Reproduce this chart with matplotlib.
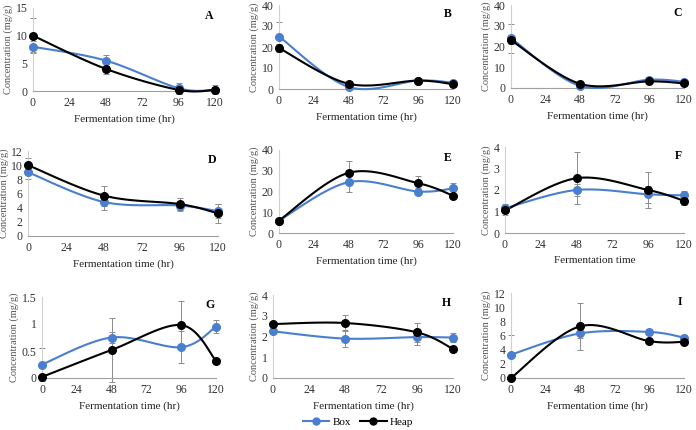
import numpy as np
import matplotlib
matplotlib.use('Agg')
import matplotlib.pyplot as plt
from matplotlib.lines import Line2D

plt.rcParams['font.family'] = ['Liberation Serif', 'DejaVu Serif']

hours = [0, 48, 96, 120]
panels = ['A', 'B', 'C', 'D', 'E', 'F', 'G', 'H', 'I']

box_A = [8.0, 5.5, 0.5, 0.2]
box_A_err = [1.0, 1.0, 1.0, 0.8]
heap_A = [10.0, 4.0, 0.2, 0.2]
heap_A_err = [3.2, 1.0, 0.3, 0.3]

box_B = [25.0, 1.0, 4.0, 3.0]
box_B_err = [7.0, 1.0, 1.0, 1.0]
heap_B = [19.5, 2.5, 4.0, 2.3]
heap_B_err = [2.0, 1.0, 0.5, 0.5]

box_C = [24.0, 1.0, 4.0, 3.0]
box_C_err = [7.0, 1.0, 1.0, 1.0]
heap_C = [23.0, 2.0, 3.2, 2.2]
heap_C_err = [2.0, 0.5, 0.5, 0.5]

box_D = [9.0, 4.8, 4.3, 3.5]
box_D_err = [1.0, 1.1, 0.7, 1.0]
heap_D = [10.0, 5.7, 4.5, 3.2]
heap_D_err = [1.0, 1.4, 0.8, 1.3]

box_E = [6.0, 24.5, 20.0, 21.5]
box_E_err = [1.0, 4.5, 1.5, 2.5]
heap_E = [6.0, 29.0, 24.0, 18.0]
heap_E_err = [0.5, 5.5, 3.5, 1.0]

box_F = [1.15, 2.0, 1.8, 1.75]
box_F_err = [0.2, 0.3, 0.4, 0.2]
heap_F = [1.05, 2.55, 2.0, 1.5]
heap_F_err = [0.2, 1.2, 0.85, 0.2]

box_G = [0.25, 0.75, 0.57, 0.95]
box_G_err = [0.3, 0.1, 0.3, 0.12]
heap_G = [0.02, 0.52, 0.98, 0.32]
heap_G_err = [0.0, 0.6, 0.45, 0.02]

box_H = [2.25, 1.9, 1.97, 1.95]
box_H_err = [0.1, 0.4, 0.4, 0.2]
heap_H = [2.6, 2.65, 2.2, 1.4]
heap_H_err = [0.1, 0.4, 0.45, 0.15]

box_I = [3.3, 6.3, 6.5, 5.7]
box_I_err = [2.8, 0.7, 0.4, 0.4]
heap_I = [0.0, 7.3, 5.2, 5.1]
heap_I_err = [0.0, 3.3, 0.2, 0.2]

box = [box_A, box_B, box_C, box_D, box_E, box_F, box_G, box_H, box_I]
box_err = [box_A_err, box_B_err, box_C_err, box_D_err, box_E_err, box_F_err, box_G_err, box_H_err, box_I_err]
heap = [heap_A, heap_B, heap_C, heap_D, heap_E, heap_F, heap_G, heap_H, heap_I]
heap_err = [heap_A_err, heap_B_err, heap_C_err, heap_D_err, heap_E_err, heap_F_err, heap_G_err, heap_H_err, heap_I_err]

ymax = [15, 40, 40, 12, 40, 4, 1.5, 4, 12]
ystep = [5, 10, 10, 2, 10, 1, 0.5, 1, 2]
xlabels = ['Fermentation time (hr)'] * 9
xlabels[5] = 'Fermentation time'

BLUE = '#4a7ecf'
W, H = 696, 430

# axes boxes in pixels: left, top, right, bottom
boxes = [(33, 8, 215, 91), (279, 5, 453, 89), (511, 5, 684, 88),
         (28, 151, 218, 236), (279, 150, 453, 233), (505, 147, 684, 233),
         (42, 297, 216, 378), (273, 295, 453, 378), (511, 293, 684, 378)]


def smooth(x, y, n=30):
    # excel-like smoothed line (catmull-rom bezier)
    p = np.column_stack([x, y]).astype(float)
    out = []
    for i in range(len(p) - 1):
        p0 = p[i - 1] if i > 0 else p[i]
        p1 = p[i]
        p2 = p[i + 1]
        p3 = p[i + 2] if i + 2 < len(p) else p[i + 1]
        c1 = p1 + (p2 - p0) / 6
        c2 = p2 - (p3 - p1) / 6
        t = np.linspace(0, 1, n)[:, None]
        seg = (1 - t) ** 3 * p1 + 3 * (1 - t) ** 2 * t * c1 + 3 * (1 - t) * t ** 2 * c2 + t ** 3 * p2
        out.append(seg)
    out = np.vstack(out)
    return out[:, 0], out[:, 1]


fig = plt.figure(figsize=(W / 100, H / 100), dpi=100)

for k in range(9):
    l, t, r, b = boxes[k]
    ax = fig.add_axes([l / W, 1 - b / H, (r - l) / W, (b - t) / H])
    for vals, errs, col in [(box[k], box_err[k], BLUE), (heap[k], heap_err[k], 'black')]:
        ax.errorbar(hours, vals, yerr=errs, fmt='none', ecolor='#8c8c8c', elinewidth=0.7,
                    capsize=2, capthick=0.7, clip_on=False, zorder=2)
        sx, sy = smooth(hours, vals)
        ax.plot(sx, sy, color=col, lw=1.5, clip_on=False, zorder=3)
        ax.plot(hours, vals, 'o', color=col, ms=5.5, clip_on=False, zorder=4)
    ax.set_xlim(0, 120)
    ax.set_ylim(0, ymax[k])
    ax.set_xticks([0, 24, 48, 72, 96, 120])
    ax.set_yticks(np.arange(0, ymax[k] + ystep[k] / 2, ystep[k]))
    ax.yaxis.set_major_formatter(matplotlib.ticker.FuncFormatter(lambda v, p: '%g' % v))
    for s in ['top', 'right']:
        ax.spines[s].set_visible(False)
    ax.spines['left'].set_color('#d0d0d0')
    ax.spines['bottom'].set_color('#a0a0a0')
    ax.spines['left'].set_linewidth(0.8)
    ax.spines['bottom'].set_linewidth(0.8)
    ax.tick_params(length=0, labelsize=8.5, pad=4, colors='#333333')
    ax.set_xlabel(xlabels[k], fontsize=8, labelpad=4, color='#222222')
    ax.set_ylabel('Concentration (mg/g)', fontsize=7.5, labelpad=1 if k == 3 else 2, color='#555555')
    ax.text(0.99, 0.97, panels[k], transform=ax.transAxes, ha='right', va='top',
            fontsize=8.5, fontweight='bold')

handles = [Line2D([], [], color=BLUE, marker='o', ms=5, lw=1.5),
           Line2D([], [], color='black', marker='o', ms=5, lw=1.5)]
fig.legend(handles, ['Box', 'Heap'], loc='center', bbox_to_anchor=(358 / W, 1 - 422 / H),
           ncol=2, frameon=False, fontsize=8, handlelength=2.4, columnspacing=0.8, handletextpad=0.3)

fig.savefig('out.png', dpi=100)
